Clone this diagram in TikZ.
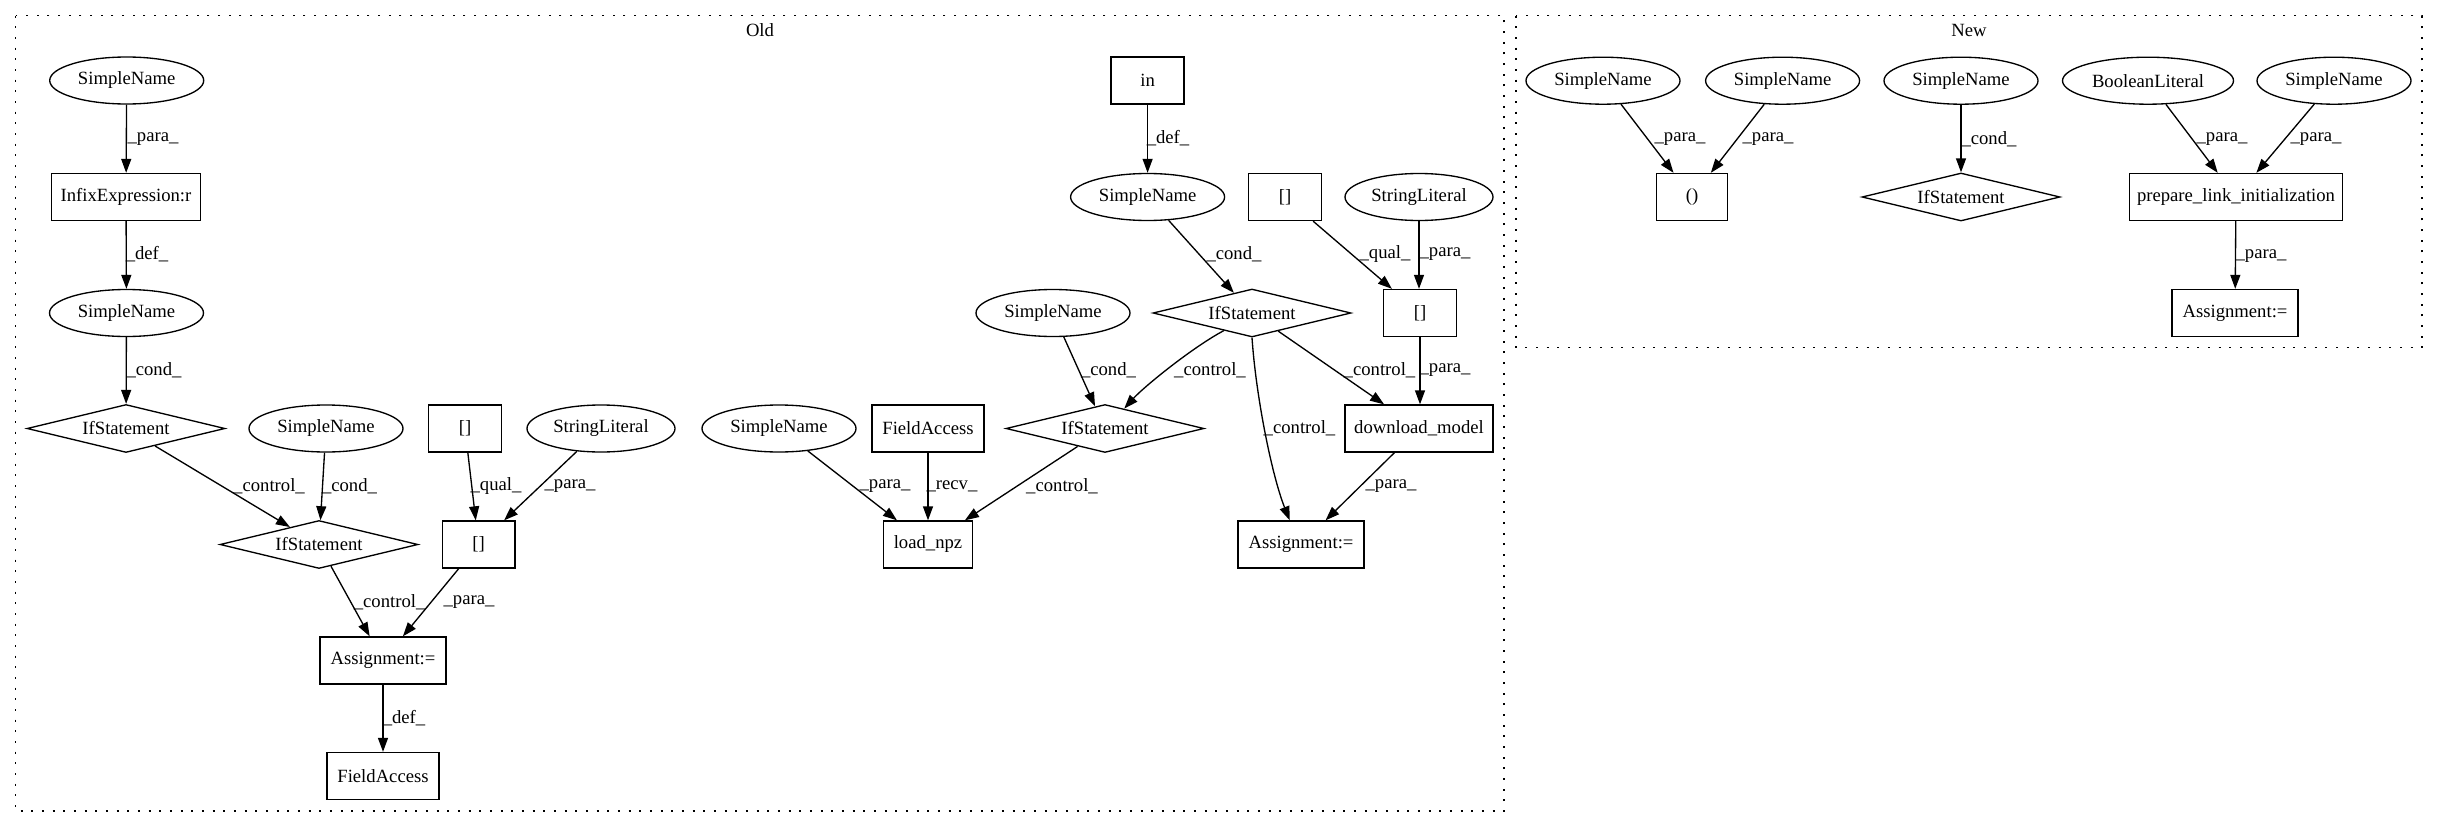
\documentclass[tikz,border=0pt]{standalone}
\usepackage{fontspec}
\setmainfont{Liberation Serif}
\usetikzlibrary{shapes.geometric,arrows.meta}
\newcommand{\fsz}{\fontsize{14pt}{16pt}\selectfont}
\begin{document}
\begin{tikzpicture}[x=0.75pt,y=-0.75pt,
  base/.style={draw, line width=1pt, inner sep=0pt, font=\fsz, minimum height=35.25pt},
  bx/.style={base, rectangle},
  el/.style={base, ellipse, minimum width=115.5pt},
  dia/.style={base, diamond, minimum width=148.5pt, minimum height=36pt, shape aspect=4},
  edge/.style={line width=1pt, -{Triangle[length=10.5pt,width=7.5pt]}},
  lab/.style={font=\fsz, inner sep=0pt},
  cluster/.style={draw, line width=1pt, dash pattern=on 1.5pt off 6.5pt}]
\useasboundingbox (0,0) rectangle (2439,828);
% clusters
\draw[cluster] (15.8,15.7) rectangle (1504,811);
\draw[cluster] (1516,15.7) rectangle (2422,347.7);
\node[lab] (oldlab) at (760,30) {Old};
\node[lab] (newlab) at (1969,30) {New};

% Old, left part
\node[el] (sa) at (126.7,80.5) {SimpleName};
\node[bx, minimum width=111.75pt] (infix) at (126,197) {InfixExpression:r};
\node[el] (sb) at (126.5,313) {SimpleName};
\node[dia] (ifa) at (126,428.5) {IfStatement};
\node[el] (sc) at (326,428.5) {SimpleName};
\node[bx, minimum width=54.4pt] (bt1) at (465,428.5) {[]};
\node[el, minimum width=111pt] (sl1) at (601,428.5) {StringLiteral};
\node[el] (sd) at (779,428.5) {SimpleName};
\node[dia] (ifb) at (319,544.5) {IfStatement};
\node[bx, minimum width=54.4pt] (bb1) at (478.6,544.5) {[]};
\node[bx, minimum width=94.5pt] (asg1) at (383,660.5) {Assignment:=};
\node[bx, minimum width=84pt] (fa1) at (383,776) {FieldAccess};

% Old, right part
\node[bx, minimum width=54.75pt] (in) at (1147.6,80.5) {in};
\node[el] (sin) at (1147.6,197) {SimpleName};
\node[bx, minimum width=54.4pt] (bt2) at (1285,197) {[]};
\node[el, minimum width=111pt] (sl2) at (1419,197) {StringLiteral};
\node[dia] (ifbig) at (1252,313) {IfStatement};
\node[el] (se) at (1053,313) {SimpleName};
\node[bx, minimum width=54.4pt] (bb2) at (1420,313) {[]};
\node[bx, minimum width=84pt] (fa2) at (928,428.5) {FieldAccess};
\node[dia] (ifmid) at (1105,428.5) {IfStatement};
\node[bx, minimum width=111pt] (dm) at (1419,428.5) {download\_model};
\node[bx, minimum width=66.3pt] (npz) at (928,544.5) {load\_npz};
\node[bx, minimum width=94.5pt] (asg2) at (1301,544.5) {Assignment:=};

% New
\node[el] (n1) at (1603,80.7) {SimpleName};
\node[el] (n2) at (1782.6,80.7) {SimpleName};
\node[el] (n3) at (1961,80.7) {SimpleName};
\node[el, minimum width=128.25pt] (bl) at (2148,80.7) {BooleanLiteral};
\node[el] (n5) at (2334,80.7) {SimpleName};
\node[bx, minimum width=53.6pt] (par) at (1692,197) {()};
\node[dia] (ifn) at (1961,197) {IfStatement};
\node[bx, minimum width=160pt] (pli) at (2236,197) {prepare\_link\_initialization};
\node[bx, minimum width=94.5pt] (asg3) at (2235,313) {Assignment:=};

% Old left edges
\draw[edge] (sa) -- (infix) node[lab, at={(153,139)}] {\_para\_};
\draw[edge] (infix) -- (sb) node[lab, at={(147,254)}] {\_def\_};
\draw[edge] (sb) -- (ifa) node[lab, at={(154,370)}] {\_cond\_};
\draw[edge] (ifa) -- (ifb) node[lab, at={(269,486)}] {\_control\_};
\draw[edge] (sc) -- (ifb) node[lab, at={(349.5,486)}] {\_cond\_};
\draw[edge] (bt1) -- (bb1) node[lab, at={(496,486)}] {\_qual\_};
\draw[edge] (sl1) -- (bb1) node[lab, at={(570,486)}] {\_para\_};
\draw[edge] (ifb) -- (asg1) node[lab, at={(389.6,602)}] {\_control\_};
\draw[edge] (bb1) -- (asg1) node[lab, at={(469,602)}] {\_para\_};
\draw[edge] (asg1) -- (fa1) node[lab, at={(404,718)}] {\_def\_};

% Old right edges
\draw[edge] (in) -- (sin) node[lab, at={(1168,138)}] {\_def\_};
\draw[edge] (sin) -- (ifbig) node[lab, at={(1234,254.5)}] {\_cond\_};
\draw[edge] (bt2) -- (bb2) node[lab, at={(1385,254.5)}] {\_qual\_};
\draw[edge] (sl2) -- (sl2 |- bb2.north) node[lab, at={(1445,254.5)}] {\_para\_};
\draw[edge] (se) -- (ifmid) node[lab, at={(1108.5,370)}] {\_cond\_};
\draw[edge] (ifbig.-148) .. controls (1192,347.6) and (1143.7,387) .. (ifmid.46) node[lab, at={(1210,370)}] {\_control\_};
\draw[edge] (ifbig) -- (dm) node[lab, at={(1379.5,370)}] {\_control\_};
\draw[edge] (bb2) -- (bb2 |- dm.north) node[lab, at={(1445,370)}] {\_para\_};
\draw[edge] (ifbig.south) .. controls (1256,397) and (1272,476) .. (asg2.115) node[lab, at={(1299.5,428)}] {\_control\_};
\draw[edge] (sd) -- (npz) node[lab, at={(885,486)}] {\_para\_};
\draw[edge] (fa2) -- (npz) node[lab, at={(952,486)}] {\_recv\_};
\draw[edge] (ifmid) -- (npz) node[lab, at={(1062,486)}] {\_control\_};
\draw[edge] (dm) -- (asg2) node[lab, at={(1391,486)}] {\_para\_};

% New edges
\draw[edge] (n1) -- (par) node[lab, at={(1680,139)}] {\_para\_};
\draw[edge] (n2) -- (par) node[lab, at={(1768,139)}] {\_para\_};
\draw[edge] (n3) -- (ifn) node[lab, at={(1989,139)}] {\_cond\_};
\draw[edge] (bl) -- (pli) node[lab, at={(2222,139)}] {\_para\_};
\draw[edge] (n5) -- (pli) node[lab, at={(2316,139)}] {\_para\_};
\draw[edge] (pli) -- (asg3) node[lab, at={(2261,256)}] {\_para\_};
\end{tikzpicture}
\end{document}
